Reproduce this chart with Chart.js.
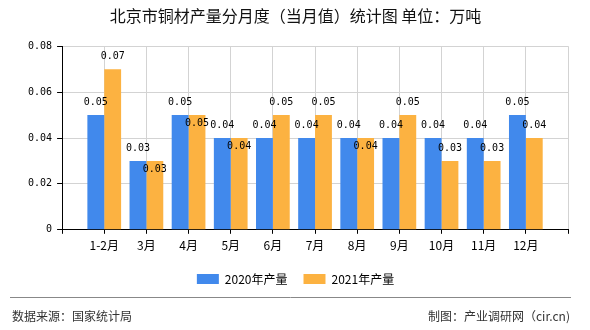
<!DOCTYPE html>
<html>
<head>
<meta charset="utf-8">
<script src="https://cdn.jsdelivr.net/npm/chart.js@4.4.0/dist/chart.umd.min.js"></script>
<style>
  html, body { margin: 0; padding: 0; background: #fff; }
  #chart { display: block; }
</style>
</head>
<body>
<canvas id="chart" width="590" height="330"></canvas>
<script>
const months = ['1-2月', '3月', '4月', '5月', '6月', '7月', '8月', '9月', '10月', '11月', '12月'];
const output2020 = [0.05, 0.03, 0.05, 0.04, 0.04, 0.04, 0.04, 0.04, 0.04, 0.04, 0.05];
const output2021 = [0.07, 0.03, 0.05, 0.04, 0.05, 0.05, 0.04, 0.05, 0.03, 0.03, 0.04];
const yTicks = [0, 0.02, 0.04, 0.06, 0.08];

const numFont = "'DejaVu Sans Mono', 'Liberation Mono', monospace";
const cjkFont = "'Noto Sans CJK SC', 'Noto Sans', sans-serif";

// empty slot on both ends so the labels sit on the grid lines
const labels = [''].concat(months, ['']);
const pad = (arr) => [null].concat(arr, [null]);

const fmt = (v) => v === 0 ? '0' : v.toFixed(2);

// value labels above bars; the 2021 label drops inside the bar when it would clash
const valueLabels = {
    id: 'valueLabels',
    afterDatasetsDraw(chart) {
        const ctx = chart.ctx;
        ctx.save();
        ctx.font = '10px ' + numFont;
        ctx.fillStyle = '#000';
        ctx.textAlign = 'center';
        ctx.textBaseline = 'middle';
        chart.data.datasets.forEach((ds, di) => {
            const meta = chart.getDatasetMeta(di);
            meta.data.forEach((bar, i) => {
                const v = ds.data[i];
                if (v === null) return;
                let y = bar.y - 13;
                if (di === 1 && chart.data.datasets[0].data[i] === v) y = bar.y + 8;
                ctx.fillText(fmt(v), bar.x, y);
            });
        });
        ctx.restore();
    }
};

const footer = {
    id: 'footer',
    afterDraw(chart) {
        const ctx = chart.ctx;
        ctx.save();
        ctx.strokeStyle = '#888';
        ctx.lineWidth = 1;
        ctx.beginPath();
        ctx.moveTo(10, 297.5);
        ctx.lineTo(571, 297.5);
        ctx.stroke();
        ctx.font = '12px ' + cjkFont;
        ctx.fillStyle = '#333';
        ctx.textBaseline = 'middle';
        ctx.textAlign = 'left';
        ctx.fillText('数据来源：国家统计局', 12, 316);
        ctx.textAlign = 'right';
        ctx.fillText('制图：产业调研网（cir.cn)', 570, 316);
        ctx.restore();
    }
};

Chart.defaults.font.family = cjkFont;
Chart.defaults.color = '#000';

new Chart(document.getElementById('chart'), {
    type: 'bar',
    data: {
        labels: labels,
        datasets: [{
            label: '2020年产量',
            data: pad(output2020),
            backgroundColor: '#4189ec',
        }, {
            label: '2021年产量',
            data: pad(output2021),
            backgroundColor: '#fcb241',
        }]
    },
    options: {
        responsive: false,
        animation: false,
        devicePixelRatio: 1,
        layout: { padding: { top: 6, left: 23, right: 22, bottom: 35 } },
        datasets: {
            bar: { categoryPercentage: 0.8, barPercentage: 1.0 }
        },
        scales: {
            x: {
                offset: false,
                grid: { offset: false, color: '#d3d3d3', tickColor: '#000', tickLength: 4 },
                border: { color: '#000' },
                ticks: {
                    autoSkip: false,
                    maxRotation: 0,
                    padding: 2,
                    font: { size: 12, family: cjkFont, lineHeight: 1.6 },
                    color: '#000'
                }
            },
            y: {
                min: 0,
                max: 0.08,
                afterBuildTicks: (axis) => { axis.ticks = yTicks.map(v => ({ value: v })); },
                grid: { color: '#d3d3d3', tickColor: '#000', tickLength: 5 },
                border: { color: '#000' },
                ticks: {
                    padding: 5,
                    font: { size: 10, family: numFont },
                    color: '#000',
                    callback: (v) => fmt(v)
                }
            }
        },
        plugins: {
            title: {
                display: true,
                text: '北京市铜材产量分月度（当月值）统计图 单位：万吨',
                font: { size: 16, weight: 'normal', family: cjkFont },
                color: '#111',
                padding: { top: 0, bottom: 21 }
            },
            legend: {
                position: 'bottom',
                labels: {
                    boxWidth: 22,
                    boxHeight: 10,
                    padding: 16,
                    font: { size: 12, family: cjkFont },
                    color: '#000'
                }
            },
            tooltip: { enabled: false }
        }
    },
    plugins: [valueLabels, footer]
});
</script>
</body>
</html>
